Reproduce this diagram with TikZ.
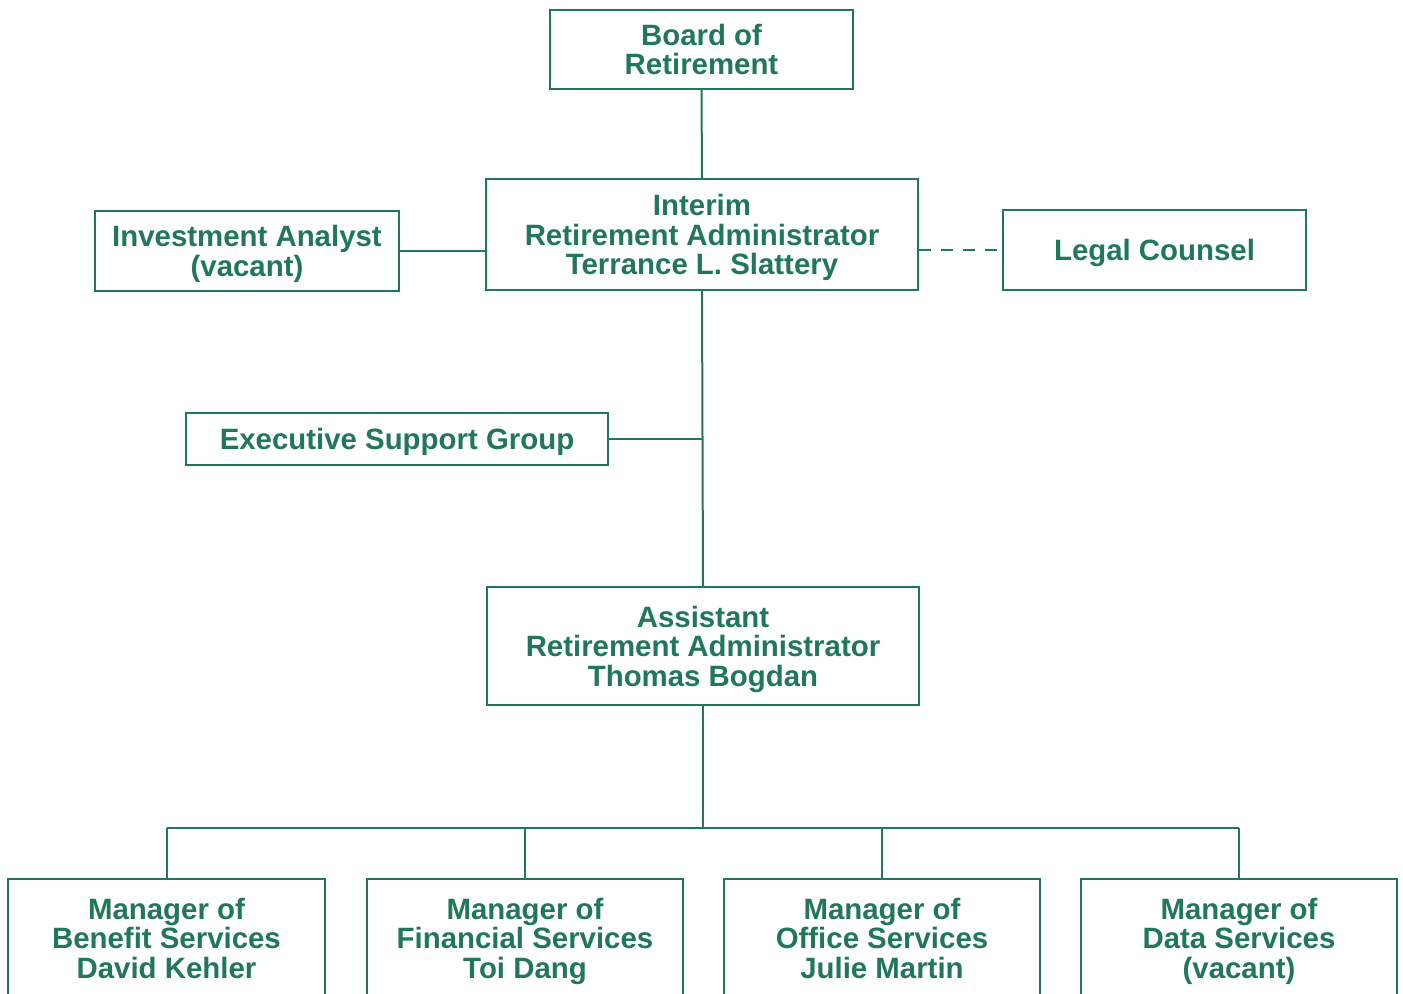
\documentclass[tikz,border=0pt]{standalone}
\usepackage{fontspec}
\setmainfont{Liberation Sans}
\definecolor{orggreen}{RGB}{32,120,88}

\begin{document}
\begin{tikzpicture}[x=0.5pt, y=-0.5pt,
    box/.style={draw=orggreen, line width=1pt, fill=white, align=center,
      text=orggreen, font=\bfseries\fontsize{14.7}{14.8}\selectfont, inner sep=0pt,
      text depth=0pt},
    link/.style={draw=orggreen, line width=1pt}]
  \useasboundingbox (0,0) rectangle (1403,994);
  \clip (0,0) rectangle (1403,994);

  % Top of the chart
  \node[box, minimum width=151.5pt, minimum height=39.5pt] (board) at (701.5, 49.5) {Board of\\Retirement};
  \node[box, minimum width=216pt, minimum height=55.5pt] (interim) at (702, 234.5) {Interim\\Retirement Administrator\\Terrance L. Slattery};
  \node[box, minimum width=152pt, minimum height=40pt] (analyst) at (247, 251) {Investment Analyst\\(vacant)};
  \node[box, minimum width=151.5pt, minimum height=40pt] (legal) at (1154.5, 250) {Legal Counsel};

  % Staff group and assistant
  \node[box, minimum width=211pt, minimum height=26pt] (exec) at (397, 439) {Executive Support Group};
  \node[box, minimum width=216pt, minimum height=59pt] (assistant) at (703, 646) {Assistant\\Retirement Administrator\\Thomas Bogdan};

  % Managers along the bottom (cut off by the page edge)
  \node[box, minimum width=158.5pt, minimum height=59pt] (benefit) at (166.5, 938) {Manager of\\Benefit Services\\David Kehler};
  \node[box, minimum width=158pt, minimum height=59pt] (financial) at (525, 938) {Manager of\\Financial Services\\Toi Dang};
  \node[box, minimum width=158pt, minimum height=59pt] (office) at (882, 938) {Manager of\\Office Services\\Julie Martin};
  \node[box, minimum width=158pt, minimum height=59pt] (data) at (1239, 938) {Manager of\\Data Services\\(vacant)};
  \coordinate (bus) at (703, 828);

  % Connectors
  \draw[link] (board.south) -- (interim.north);
  \draw[link] (analyst.east) -- (analyst.east -| interim.west);
  \draw[link, dashed, dash pattern=on 6pt off 5pt] (interim.east |- legal.west) -- (legal.west);
  \draw[link] (interim.south) -- (assistant.north);
  \draw[link] (exec.east) -- (exec.east -| assistant.north);
  \draw[link] (assistant.south) -- (bus);
  \draw[link] (benefit.north |- bus) -- (data.north |- bus);
  \foreach \m in {benefit, financial, office, data}
    \draw[link] (\m.north |- bus) -- (\m.north);
\end{tikzpicture}
\end{document}
